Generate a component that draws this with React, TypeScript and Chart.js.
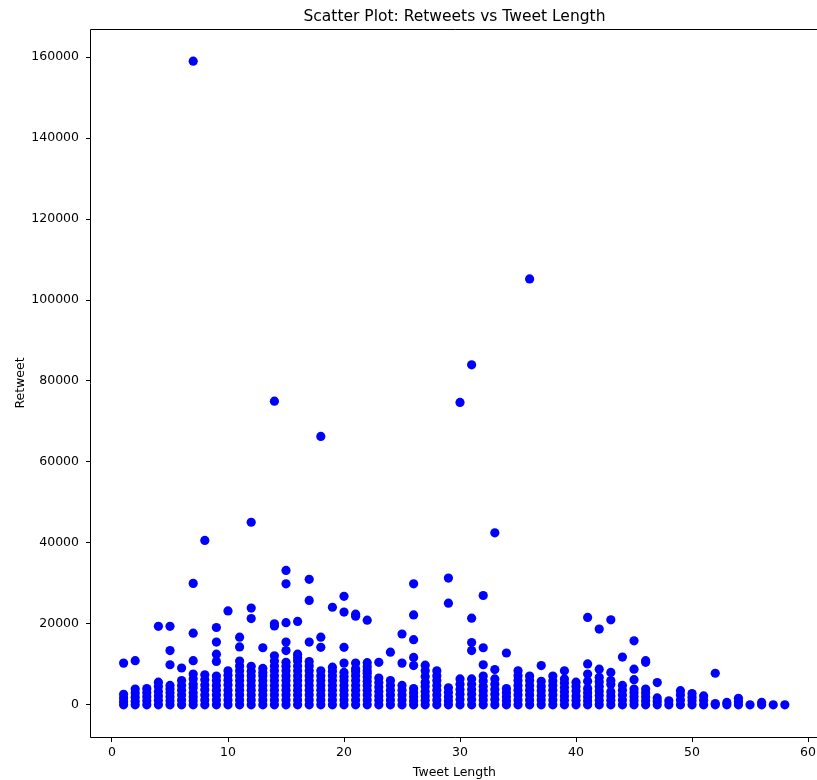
import React, { useEffect, useRef } from "react";
import { Chart, registerables } from "chart.js";

Chart.register(...registerables);

const chartTitle = "Scatter Plot: Retweets vs Tweet Length";
const xAxisLabel = "Tweet Length";
const yAxisLabel = "Retweet";

const xTicks = [0, 10, 20, 30, 40, 50, 60];
const yTicks = [0, 20000, 40000, 60000, 80000, 100000, 120000, 140000, 160000];

const tweetLength = [
  1, 2, 3, 4, 5, 6, 7, 8, 9, 10, 11, 12, 13, 14, 15, 16, 17, 18, 19, 20,
  21, 22, 23, 24, 25, 26, 27, 28, 29, 30, 31, 32, 33, 34, 35, 36, 37, 38, 39, 40,
  41, 42, 43, 44, 45, 46, 47, 48, 49, 50, 51, 52, 53, 54, 55, 56, 57, 58,
];

// retweet counts observed at each tweet length (same order as tweetLength)
const retweets: number[][] = [
  [0, 800, 1700, 2600, 10300],
  [0, 900, 1900, 2900, 3900, 10900],
  [0, 1000, 2000, 3000, 4000],
  [0, 1100, 2200, 3300, 4500, 5600, 19400],
  [0, 1000, 2000, 3000, 3900, 4800, 9900, 13400, 19400],
  [0, 1200, 2400, 3600, 4800, 6000, 9100],
  [0, 1000, 2000, 3000, 4200, 5100, 6400, 7600, 10900, 17700, 30000, 159000],
  [0, 1200, 2400, 3700, 4900, 6200, 7400, 40600],
  [0, 1200, 2400, 3600, 4800, 6000, 7100, 10700, 12500, 15500, 19100],
  [0, 1200, 2400, 3600, 4900, 6100, 7300, 8400, 23200],
  [0, 1200, 2400, 3600, 4800, 6000, 7200, 8400, 9600, 10800, 14300, 16700],
  [0, 1200, 2400, 3600, 4800, 6000, 7200, 8300, 9500, 21300, 23900, 45100],
  [0, 1200, 2400, 3600, 4800, 6000, 7200, 8000, 9000, 14100],
  [0, 1200, 2400, 3600, 4800, 6000, 7200, 8400, 9600, 10800, 12100, 19500, 20000, 75000],
  [0, 1200, 2400, 3600, 4800, 6000, 7200, 8400, 9500, 10500, 13400, 15500, 20300, 29900, 33200],
  [0, 1200, 2400, 3600, 4800, 6000, 7200, 8400, 9600, 10800, 11600, 12500, 20600],
  [0, 1200, 2400, 3600, 4800, 6000, 7200, 8400, 9600, 10700, 15500, 25800, 31000],
  [0, 1200, 2400, 3600, 4800, 6000, 7200, 8400, 14200, 16700, 66300],
  [0, 1200, 2400, 3600, 4800, 6000, 7200, 8300, 9300, 24100],
  [0, 1200, 2400, 3600, 4800, 6000, 7000, 8000, 10300, 14200, 22900, 26800],
  [0, 1200, 2400, 3600, 4800, 6000, 7200, 8200, 8900, 10300, 21900, 22400],
  [0, 1200, 2400, 3600, 4800, 5800, 6900, 7800, 8500, 9400, 10400, 20900],
  [0, 1100, 2200, 3300, 4400, 5500, 6600, 10500],
  [0, 1200, 2400, 3600, 4800, 6000, 13000],
  [0, 1200, 2400, 3600, 4800, 10300, 17500],
  [0, 1000, 2000, 3000, 4000, 9700, 11700, 16100, 22200, 29900],
  [0, 1100, 2200, 3300, 4500, 5600, 7000, 8400, 9800],
  [0, 1200, 2400, 3600, 4800, 6000, 7200, 8400],
  [0, 1000, 2000, 3100, 4200, 25100, 31300],
  [0, 1300, 2600, 3800, 5100, 6400, 74700],
  [0, 1300, 2600, 3800, 5100, 6400, 13400, 15400, 21400, 84000],
  [0, 1200, 2300, 3500, 4600, 5900, 7100, 9900, 14100, 27000],
  [0, 1300, 2600, 3800, 5100, 6400, 8700, 42500],
  [0, 1000, 2000, 3000, 4000, 12800],
  [0, 1200, 2400, 3600, 4800, 6000, 7200, 8400],
  [0, 1200, 2400, 3600, 4800, 6000, 7100, 105200],
  [0, 1200, 2300, 3500, 4600, 5800, 9700],
  [0, 1200, 2400, 3600, 4800, 5900, 7100],
  [0, 1100, 2200, 3200, 4300, 5400, 6400, 8400],
  [0, 1100, 2200, 3400, 4500, 5600],
  [0, 1000, 2000, 3000, 4000, 5800, 7600, 10100, 21600],
  [0, 1100, 2300, 3400, 4500, 5700, 6800, 8800, 18700],
  [0, 1100, 2200, 3200, 5000, 6000, 8000, 21000],
  [0, 1200, 2400, 3600, 4800, 11800],
  [0, 1000, 2000, 3000, 3900, 6200, 8800, 15800],
  [0, 1000, 2000, 3000, 3900, 10500, 10900],
  [0, 900, 1700, 5500],
  [0, 1000],
  [0, 1200, 2400, 3500],
  [0, 1000, 1900, 2800],
  [0, 1100, 2200],
  [0, 300, 7800],
  [0, 600],
  [0, 800, 1600],
  [0],
  [0, 600],
  [0],
  [0],
];

const xMin = -1.81;
const xMax = 60.85;
const yMin = -7950;
const yMax = 166950;

const FONT = "'DejaVu Sans', 'Liberation Sans', sans-serif";

const framePlugin = {
  id: "frame",
  afterDraw(chart: any) {
    const { ctx, chartArea } = chart;
    const { left, right, top, bottom } = chartArea;
    ctx.save();
    ctx.strokeStyle = "#000";
    ctx.lineWidth = 1;
    // top, left and bottom spines (right spine lies beyond the visible edge)
    ctx.beginPath();
    ctx.moveTo(right + 2, top + 0.5);
    ctx.lineTo(left - 0.5, top + 0.5);
    ctx.lineTo(left - 0.5, bottom + 0.5);
    ctx.lineTo(right + 2, bottom + 0.5);
    ctx.stroke();
    ctx.fillStyle = "#000";
    ctx.textAlign = "center";
    ctx.textBaseline = "alphabetic";
    const cx = (left + right) / 2;
    ctx.font = `15.5px ${FONT}`;
    ctx.fillText(chartTitle, cx, 21);
    ctx.font = `12.5px ${FONT}`;
    ctx.fillText(xAxisLabel, cx, 776);
    ctx.translate(24, (top + bottom) / 2);
    ctx.rotate(-Math.PI / 2);
    ctx.fillText(yAxisLabel, 0, 0);
    ctx.restore();
  },
};

export default function App() {
  const canvasRef = useRef<HTMLCanvasElement | null>(null);

  useEffect(() => {
    const canvas = canvasRef.current;
    if (!canvas) return;
    const points: { x: number; y: number }[] = [];
    tweetLength.forEach((len, i) => {
      retweets[i].forEach((v) => points.push({ x: len, y: v }));
    });

    const chart = new Chart(canvas, {
      type: "scatter",
      data: {
        datasets: [
          {
            data: points,
            backgroundColor: "#0000ff",
            borderColor: "#0000ff",
            borderWidth: 0,
            pointRadius: 4.6,
            pointHoverRadius: 4.6,
          },
        ],
      },
      options: {
        animation: false,
        responsive: false,
        events: [],
        layout: { padding: { top: 29, left: 0, right: 0, bottom: 0 }, autoPadding: false },
        plugins: {
          legend: { display: false },
          tooltip: { enabled: false },
          title: { display: false },
        },
        scales: {
          x: {
            type: "linear",
            min: xMin,
            max: xMax,
            afterFit: (scale: any) => {
              scale.height = 43;
            },
            afterBuildTicks: (scale: any) => {
              scale.ticks = xTicks.map((v) => ({ value: v }));
            },
            grid: {
              drawOnChartArea: false,
              drawTicks: true,
              tickLength: 5,
              tickColor: "#000",
              tickWidth: 1,
            },
            border: { display: false },
            ticks: {
              color: "#000",
              padding: 3,
              maxRotation: 0,
              font: { family: FONT, size: 12.5 },
              callback: (v: any) => String(v),
            },
          },
          y: {
            type: "linear",
            min: yMin,
            max: yMax,
            afterFit: (scale: any) => {
              scale.width = 91;
            },
            afterBuildTicks: (scale: any) => {
              scale.ticks = yTicks.map((v) => ({ value: v }));
            },
            grid: {
              drawOnChartArea: false,
              drawTicks: true,
              tickLength: 5,
              tickColor: "#000",
              tickWidth: 1,
            },
            border: { display: false },
            ticks: {
              color: "#000",
              padding: 7,
              font: { family: FONT, size: 12.5 },
              callback: (v: any) => String(v),
            },
          },
        },
      },
      plugins: [framePlugin],
    });
    return () => chart.destroy();
  }, []);

  return (
    <div
      style={{
        position: "fixed",
        left: 0,
        top: 0,
        width: 817,
        height: 780,
        overflow: "hidden",
        background: "#fff",
      }}
    >
      <canvas ref={canvasRef} width={819} height={780} style={{ display: "block", width: 819, height: 780 }} />
    </div>
  );
}
